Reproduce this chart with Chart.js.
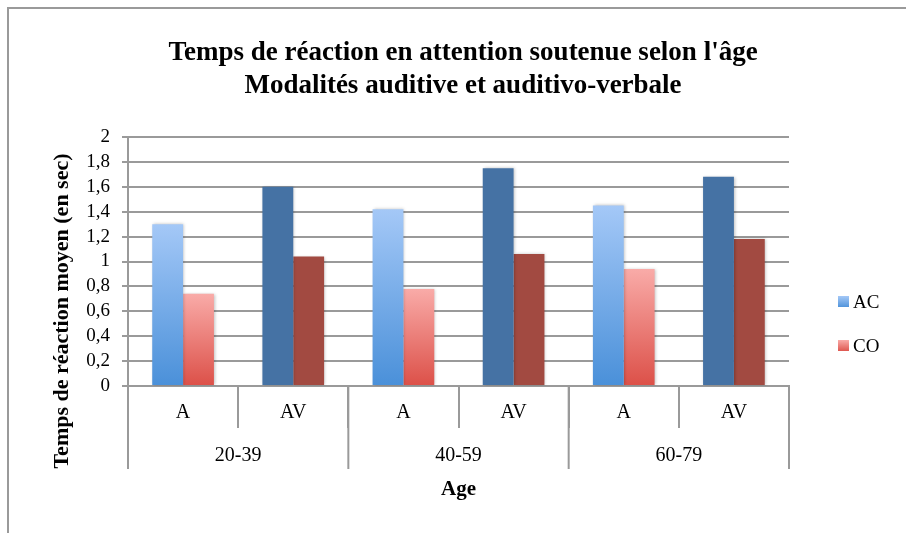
<!DOCTYPE html>
<html>
<head>
<meta charset="utf-8">
<script src="https://cdn.jsdelivr.net/npm/chart.js@4.4.1/dist/chart.umd.min.js"></script>
<style>
    body { margin: 0; background: #fff; }
    #wrap { position: relative; width: 906px; height: 533px; }
</style>
</head>
<body>
<div id="wrap"><canvas id="reactionChart"></canvas></div>
<script>
// data
const modalities = ["A", "AV", "A", "AV", "A", "AV"];
const ageGroups = ["20-39", "40-59", "60-79"];
const acValues = [1.30, 1.60, 1.42, 1.75, 1.45, 1.68];
const coValues = [0.74, 1.04, 0.78, 1.06, 0.94, 1.18];
const yTickLabels = ["0", "0,2", "0,4", "0,6", "0,8", "1", "1,2", "1,4", "1,6", "1,8", "2"];

const titleLines = ["Temps de réaction en attention soutenue selon l'âge", "Modalités auditive et auditivo-verbale"];
const yTitle = "Temps de réaction moyen (en sec)";
const xTitle = "Age";

const serif = "'Liberation Serif', 'DejaVu Serif', serif";
const gridGray = "#9a9a9a";

// A bars get a vertical gradient, AV bars are flat
function barColor(light, dark, solid) {
    return function (ctx) {
        if (ctx.type !== "data") return solid;
        if (ctx.dataIndex % 2 === 1) return solid;
        const chart = ctx.chart;
        const y = chart.scales.y;
        if (!chart.chartArea || !y) return dark;
        const top = y.getPixelForValue(ctx.parsed.y);
        const base = y.getPixelForValue(0);
        const g = chart.ctx.createLinearGradient(0, top, 0, base);
        g.addColorStop(0, light);
        g.addColorStop(1, dark);
        return g;
    };
}

const decorations = {
    id: "decorations",
    beforeDatasetsDraw(chart) {
        const c = chart.ctx;
        c.save();
        c.shadowColor = "rgba(0,0,0,0.25)";
        c.shadowBlur = 3;
        c.shadowOffsetX = 1;
        c.shadowOffsetY = 0;
    },
    afterDatasetsDraw(chart) {
        chart.ctx.restore();
    },
    afterDraw(chart) {
        const c = chart.ctx;
        const x = chart.scales.x;
        const area = chart.chartArea;
        c.save();

        // outer frame
        c.strokeStyle = gridGray;
        c.lineWidth = 2;
        c.beginPath();
        c.moveTo(8, 533);
        c.lineTo(8, 8);
        c.lineTo(906, 8);
        c.stroke();

        // title
        c.fillStyle = "#000";
        c.textAlign = "center";
        c.textBaseline = "middle";
        c.font = "bold 27px " + serif;
        c.fillText(titleLines[0], 463, 53);
        c.fillText(titleLines[1], 463, 86);

        // y axis title
        c.save();
        c.translate(62, 311);
        c.rotate(-Math.PI / 2);
        c.font = "bold 22px " + serif;
        c.fillText(yTitle, 0, 0);
        c.restore();

        // modality labels
        c.font = "20px " + serif;
        modalities.forEach((m, i) => {
            c.fillText(m, x.getPixelForValue(i), 413);
        });

        // age group separators and labels
        c.strokeStyle = gridGray;
        c.lineWidth = 2;
        for (let g = 0; g <= ageGroups.length; g++) {
            const px = g < ageGroups.length
                ? (x.getPixelForValue(g * 2) + x.getPixelForValue(g * 2 - 1)) / 2
                : area.right;
            const edge = g === 0 ? area.left : px;
            c.beginPath();
            c.moveTo(edge, area.bottom);
            c.lineTo(edge, 469);
            c.stroke();
        }
        ageGroups.forEach((label, g) => {
            const mid = (x.getPixelForValue(g * 2) + x.getPixelForValue(g * 2 + 1)) / 2;
            c.fillText(label, mid, 456);
        });

        // x axis title
        c.font = "bold 21px " + serif;
        c.fillText(xTitle, (area.left + area.right) / 2, 490);

        // legend
        const items = [
            { label: chart.data.datasets[0].label, light: "#a4c8f7", dark: "#4a90d9", y: 302 },
            { label: chart.data.datasets[1].label, light: "#f9aba8", dark: "#dc5048", y: 346 }
        ];
        c.textAlign = "left";
        c.font = "19px " + serif;
        items.forEach(it => {
            const g = c.createLinearGradient(0, it.y - 6, 0, it.y + 6);
            g.addColorStop(0, it.light);
            g.addColorStop(1, it.dark);
            c.fillStyle = g;
            c.fillRect(838, it.y - 6, 11, 11);
            c.fillStyle = "#000";
            c.fillText(it.label, 853, it.y + 1);
        });

        c.restore();
    }
};

document.addEventListener("DOMContentLoaded", function () {
    const ctx = document.getElementById("reactionChart").getContext("2d");
    new Chart(ctx, {
        type: "bar",
        data: {
            labels: modalities,
            datasets: [
                {
                    label: "AC",
                    data: acValues,
                    backgroundColor: barColor("#a4c8f7", "#4a90d9", "#4572a4"),
                    borderWidth: 0,
                },
                {
                    label: "CO",
                    data: coValues,
                    backgroundColor: barColor("#f9aba8", "#dc5048", "#a24a41"),
                    borderWidth: 0,
                },
            ],
        },
        options: {
            responsive: true,
            maintainAspectRatio: false,
            animation: false,
            layout: { padding: { left: 0, top: 137, right: 117, bottom: 0 } },
            datasets: { bar: { categoryPercentage: 0.56, barPercentage: 1.0 } },
            plugins: {
                legend: { display: false },
                title: { display: false },
                tooltip: { enabled: false },
            },
            scales: {
                x: {
                    afterFit: s => { s.height = 147; },
                    grid: {
                        offset: true,
                        drawOnChartArea: false,
                        drawTicks: true,
                        tickLength: 42,
                        color: gridGray,
                        lineWidth: 2,
                    },
                    border: { color: gridGray, width: 2 },
                    ticks: { display: false },
                },
                y: {
                    min: 0,
                    max: 2,
                    afterFit: s => { s.width = 128; },
                    grid: { color: gridGray, lineWidth: 2, tickLength: 6 },
                    border: { color: gridGray, width: 2 },
                    ticks: {
                        stepSize: 0.2,
                        autoSkip: false,
                        padding: 12,
                        color: "#000",
                        font: { family: serif, size: 19 },
                        callback: (v, i) => yTickLabels[i],
                    },
                },
            },
        },
        plugins: [decorations],
    });
});
</script>
</body>
</html>
